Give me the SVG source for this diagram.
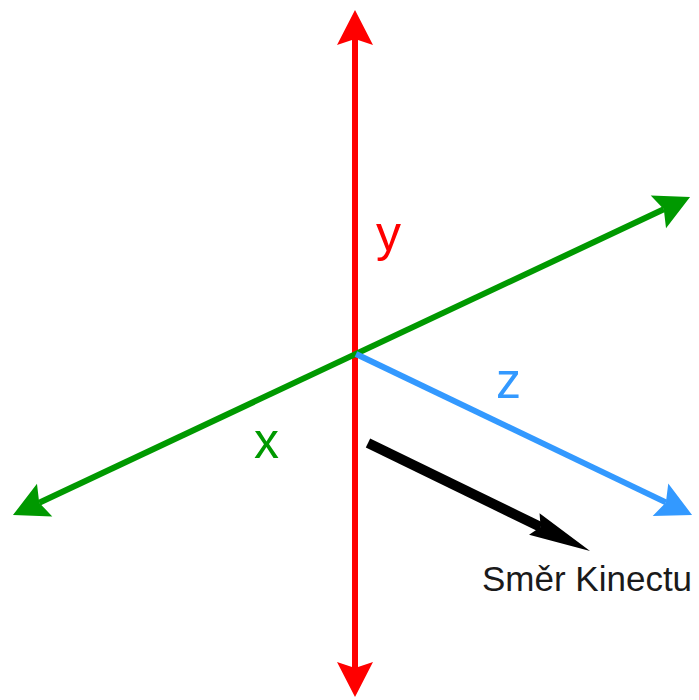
<svg xmlns="http://www.w3.org/2000/svg" width="699" height="700" viewBox="0 0 699 700">
  <style>
    .axis { fill: none; stroke-width: 6; }
    .lbl { font-family: "Liberation Sans", Arial, sans-serif; }
  </style>
  <defs>
    <marker id="arrRed" markerUnits="userSpaceOnUse" viewBox="-36 -19 37 38" markerWidth="37" markerHeight="38" refX="-29" refY="0" orient="auto-start-reverse">
      <path d="M0,0 L-35,-18 L-29,0 L-35,18 Z" fill="#FF0000"/>
    </marker>
    <marker id="arrGreen" markerUnits="userSpaceOnUse" viewBox="-36 -19 37 38" markerWidth="37" markerHeight="38" refX="-29" refY="0" orient="auto-start-reverse">
      <path d="M0,0 L-35,-18 L-29,0 L-35,18 Z" fill="#009900"/>
    </marker>
    <marker id="arrBlue" markerUnits="userSpaceOnUse" viewBox="-36 -19 37 38" markerWidth="37" markerHeight="38" refX="-29" refY="0" orient="auto">
      <path d="M0,0 L-35,-18 L-29,0 L-35,18 Z" fill="#3399FF"/>
    </marker>
    <marker id="arrBlack" markerUnits="userSpaceOnUse" viewBox="-64 -14 65 28" markerWidth="65" markerHeight="28" refX="-55" refY="0" orient="auto">
      <path d="M0,0 L-62,-12 L-55,0 L-62,12 Z" fill="#000000"/>
    </marker>
  </defs>
  <g id="connectors">
    <path id="axis-y" class="axis" stroke="#FF0000" d="M355,39 L355,668" marker-start="url(#arrRed)" marker-end="url(#arrRed)"/>
    <path id="axis-x" class="axis" stroke="#009900" d="M39.2,502.7 L663.8,209.3" marker-start="url(#arrGreen)" marker-end="url(#arrGreen)"/>
    <path id="axis-z" class="axis" stroke="#3399FF" d="M356,354 L665.9,502.4" marker-end="url(#arrBlue)"/>
    <path id="kinect-dir" fill="none" stroke="#000000" stroke-width="10" d="M368,443 L540.6,527" marker-end="url(#arrBlack)"/>
  </g>
  <g id="label-y">
    <text class="lbl" x="376" y="251" font-size="50" fill="#FF0000">y</text>
  </g>
  <g id="label-x">
    <text class="lbl" x="254" y="458" font-size="50" fill="#009900">x</text>
  </g>
  <g id="label-z">
    <text class="lbl" x="496" y="398" font-size="50" fill="#3399FF">z</text>
  </g>
  <g id="label-kinect">
    <text class="lbl" x="482" y="591" font-size="35" fill="#1a1a1a">Směr Kinectu</text>
  </g>
</svg>
